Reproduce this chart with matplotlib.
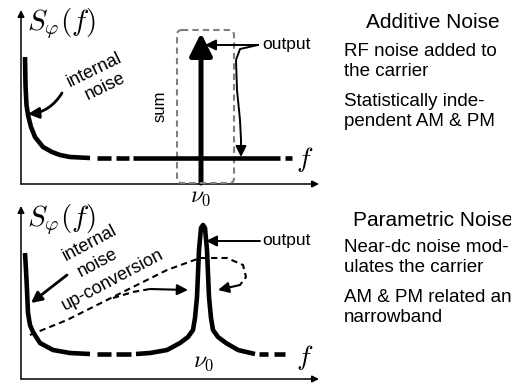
import matplotlib.pyplot as plt
from matplotlib.patches import FancyArrowPatch, FancyBboxPatch

plt.rcParams["font.family"] = ["Liberation Sans", "DejaVu Sans"]
plt.rcParams["mathtext.fontset"] = "cm"

# ---- top panel (additive noise), pixel coordinates ----
top_noise_x = [25, 25.5, 26.5, 28, 31, 35, 43, 52, 60, 70, 90]
top_noise_y = [57, 85, 105, 115, 127, 137, 147, 152, 155, 157, 158]
top_floor_y = 158
top_dashes = [(97, 111), (116, 129), (285, 292)]
top_floor_solid = (133, 280)
carrier_x = 201
carrier_top = 33

# ---- bottom panel (parametric noise) ----
bot_noise_x = [25, 26, 27, 28, 30, 33, 40, 53, 70, 90]
bot_noise_y = [253, 270, 290, 313, 325, 332, 343, 350, 353, 354]
bot_floor_y = 354
bot_dashes = [(97, 111), (116, 131), (259, 268), (274, 285)]
peak_x = [136, 150, 167, 180, 188, 193, 195, 197, 199, 201, 203, 205, 207,
          209, 211, 213, 218, 226, 238, 255]
peak_y = [354, 353, 350, 343, 337, 330, 318, 297, 250, 228, 225, 228, 250,
          297, 318, 330, 337, 343, 350, 354]
upconv_x = [30, 67, 117, 167, 200, 227, 243, 246, 240, 218]
upconv_y = [335, 320, 295, 270, 258, 258, 265, 277, 285, 290]
branch_x = [113, 133, 150, 188]
branch_y = [298, 292, 289, 290]

right_top = ["RF noise added to", "the carrier", "Statistically inde-",
             "pendent AM & PM"]
right_top_y = [52, 72, 102, 122]
right_bot = ["Near-dc noise mod-", "ulates the carrier", "AM & PM related and",
             "narrowband"]
right_bot_y = [248, 268, 298, 318]

fig = plt.figure(figsize=(5.11, 3.87), dpi=100)
ax = fig.add_axes([0, 0, 1, 1])
ax.set_xlim(0, 511)
ax.set_ylim(387, 0)
ax.axis("off")


def arrow(p0, p1, lw=1.2, ms=12, style="-|>", ls="-", rad=0.0):
    a = FancyArrowPatch(p0, p1, arrowstyle=style, mutation_scale=ms,
                        lw=lw, color="black", linestyle=ls,
                        shrinkA=0, shrinkB=0,
                        connectionstyle=f"arc3,rad={rad}")
    ax.add_patch(a)


def curve_arrow(xs, ys, lw=1.5, ms=12, ls="-"):
    ax.plot(xs[:-1], ys[:-1], color="black", lw=lw, ls=ls)
    arrow((xs[-2], ys[-2]), (xs[-1], ys[-1]), lw=lw, ms=ms)


for off, ytop in [(0, 10), (195, 206)]:
    base = 184 if off == 0 else 379
    arrow((21, base), (21, ytop), lw=1.1, ms=10)
    arrow((21, base), (319, base), lw=1.1, ms=10)
    ax.text(27, 24 + (196 if off else 0), r"$S_\varphi(f)$", fontsize=21,
            ha="left", va="center")

# top panel curves
ax.plot(top_noise_x, top_noise_y, color="black", lw=3.3,
        solid_capstyle="butt")
for x0, x1 in top_dashes:
    ax.plot([x0, x1], [top_floor_y] * 2, color="black", lw=3.3,
            solid_capstyle="butt")
ax.plot(top_floor_solid, [top_floor_y] * 2, color="black", lw=3.3,
        solid_capstyle="butt")
arrow((carrier_x, 183), (carrier_x, carrier_top), lw=3.6, ms=34)
ax.add_patch(FancyBboxPatch((177, 30), 57, 153,
                            boxstyle="round,pad=0,rounding_size=5",
                            fill=False, ec="#7f7f7f", lw=1.5,
                            linestyle=(0, (3, 2))))
ax.text(160, 106, "sum", rotation=90, fontsize=12, ha="center",
        va="center")
arrow((258, 45), (205, 45), lw=1.4, ms=16)
ax.text(262, 45, "output", fontsize=12.5, ha="left", va="center")
ax.plot([258, 240, 236, 237, 240, 241], [45, 49, 60, 90, 120, 140],
        color="black", lw=1.4)
arrow((241, 139), (241, 157), lw=1.4, ms=16)
ax.text(94, 70, "internal", rotation=26, fontsize=13, ha="center",
        va="center", rotation_mode="anchor")
ax.text(105, 87, "noise", rotation=26, fontsize=13, ha="center",
        va="center", rotation_mode="anchor")
arrow((62, 93), (28, 114), lw=2.0, ms=16, rad=-0.25)
ax.text(201, 197, r"$\nu_0$", fontsize=17, ha="center", va="center")
ax.text(305, 160, r"$f$", fontsize=20, ha="center", va="center")

# right text, top
ax.text(366, 22, "Additive Noise", fontsize=15, ha="left", va="center")
for t, y in zip(right_top, right_top_y):
    ax.text(344, y, t, fontsize=13.5, ha="left", va="center")

# bottom panel curves
ax.plot(bot_noise_x, bot_noise_y, color="black", lw=3.3,
        solid_capstyle="butt")
for x0, x1 in bot_dashes:
    ax.plot([x0, x1], [bot_floor_y] * 2, color="black", lw=3.3,
            solid_capstyle="butt")
ax.plot(peak_x, peak_y, color="black", lw=3.3, solid_capstyle="butt")
arrow((260, 241), (206, 241), lw=1.4, ms=16)
ax.text(262, 241, "output", fontsize=12.5, ha="left", va="center")
curve_arrow(upconv_x, upconv_y, lw=1.5, ms=16, ls=(0, (3, 2)))
curve_arrow(branch_x, branch_y, lw=1.5, ms=16, ls=(0, (3, 2)))
ax.text(90, 243, "internal", rotation=28, fontsize=13, ha="center",
        va="center", rotation_mode="anchor")
ax.text(98, 263, "noise", rotation=28, fontsize=13, ha="center",
        va="center", rotation_mode="anchor")
ax.text(113, 280, "up-conversion", rotation=28, fontsize=13, ha="center",
        va="center", rotation_mode="anchor")
arrow((67, 275), (31, 303), lw=2.0, ms=16)
ax.text(204, 362, r"$\nu_0$", fontsize=17, ha="center", va="center")
ax.text(305, 358, r"$f$", fontsize=20, ha="center", va="center")

# right text, bottom
ax.text(353, 220, "Parametric Noise", fontsize=15, ha="left", va="center")
for t, y in zip(right_bot, right_bot_y):
    ax.text(344, y, t, fontsize=13.5, ha="left", va="center")

fig.savefig("out.png", dpi=100)
